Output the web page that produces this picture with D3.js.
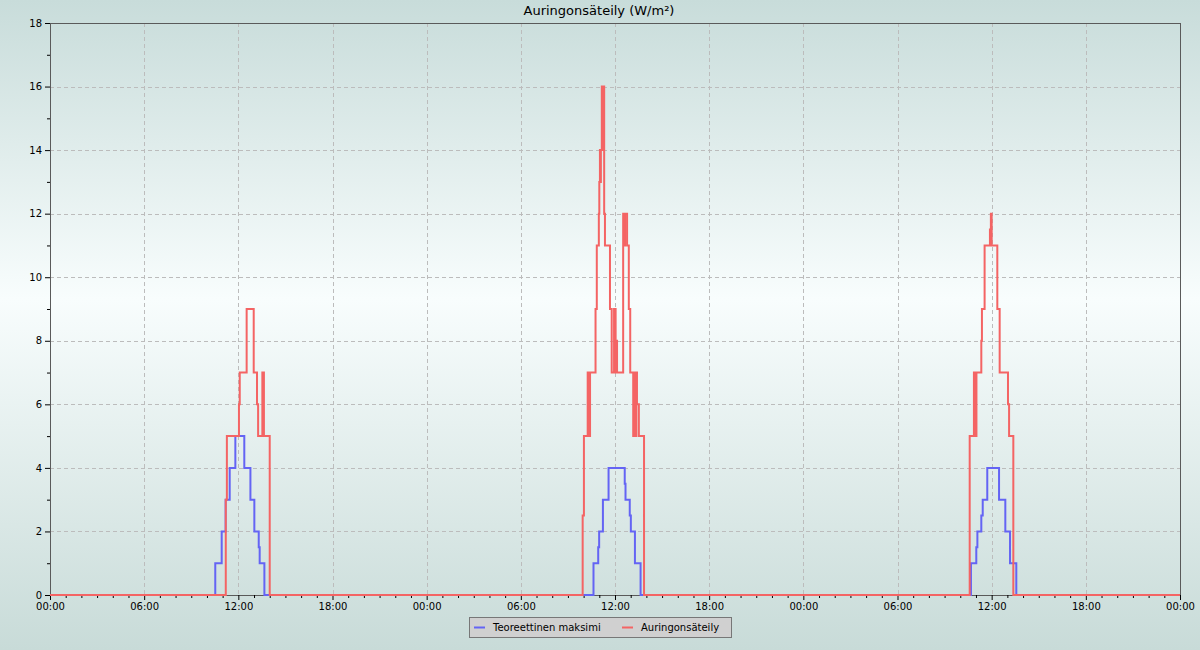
<!DOCTYPE html>
<html>
<head>
<meta charset="utf-8">
<script src="https://cdn.jsdelivr.net/npm/d3@7"></script>
<style>
html,body{margin:0;padding:0;}
body{width:1200px;height:650px;overflow:hidden;}
svg{display:block;font-family:"DejaVu Sans",sans-serif;}
</style>
</head>
<body>
<svg id="chart" width="1200" height="650"></svg>
<script>
// ---- data (hours since start of first day) ----
const chartTitle = "Auringonsäteily (W/m²)";
const seriesNames = ["Teoreettinen maksimi", "Auringonsäteily"];
const seriesColors = ["#6464f4", "#f46464"];

const maxTimes = [0, 10.53, 10.94, 11.19, 11.45, 11.81, 12.38, 12.77, 13.02, 13.30, 13.36, 13.66,
  34.63, 34.93, 34.99, 35.23, 35.59, 36.62, 36.67, 36.94, 37.01, 37.27, 37.63,
  58.68, 59.02, 59.09, 59.34, 59.43, 59.72, 60.47, 60.87, 61.17, 61.57, 72];
const maxValues = [0, 1, 2, 3, 4, 5, 4, 3, 2, 1.5, 1, 0,
  1, 1.5, 2, 3, 4, 3.5, 3, 2.5, 2, 1, 0,
  1, 1.5, 2, 2.5, 3, 4, 3, 2, 1, 0, 0];

const radTimes = [0, 11.20, 11.27, 12.04, 12.09, 12.53, 12.98, 13.19, 13.26, 13.53, 13.56, 13.59, 13.63, 14.00,
  33.94, 34.02, 34.26, 34.30, 34.34, 34.38, 34.41, 34.76, 34.84, 34.97, 35.00, 35.04, 35.07, 35.10, 35.16, 35.20, 35.23, 35.31, 35.36,
  35.68, 35.79, 35.94, 35.97, 36.00, 36.04, 36.09, 36.13, 36.52, 36.58, 36.64, 36.77, 36.88, 36.97,
  37.16, 37.20, 37.24, 37.28, 37.32, 37.36, 37.40, 37.52, 37.85,
  58.60, 58.87, 58.91, 58.95, 58.99, 59.03, 59.34, 59.38, 59.55, 59.89, 59.95, 60.00, 60.36, 60.51, 61.04, 61.11, 61.38, 72];
const radValues = [0, 3, 5, 6, 7, 9, 7, 6, 5, 7, 5, 7, 5, 0,
  2.5, 5, 7, 5, 7, 5, 7, 9, 11, 12, 13, 14, 13, 14, 16, 14, 16, 12, 11,
  9, 7, 9, 7, 9, 7, 8, 7, 12, 11, 12, 11, 9, 7,
  5, 7, 5, 7, 5, 7, 6, 5, 0,
  5, 7, 5, 7, 5, 7, 8, 9, 11, 11.5, 12, 11, 9, 7, 6, 5, 0, 0];

const xTickHours = [0, 6, 12, 18, 24, 30, 36, 42, 48, 54, 60, 66, 72];
const xTickLabels = ["00:00", "06:00", "12:00", "18:00", "00:00", "06:00", "12:00", "18:00", "00:00", "06:00", "12:00", "18:00", "00:00"];
const yTicks = [0, 2, 4, 6, 8, 10, 12, 14, 16, 18];

// ---- layout ----
const W = 1200, H = 650;
const m = {left: 50, right: 20, top: 23, bottom: 55};
const svg = d3.select("#chart");

const defs = svg.append("defs");
const grad = defs.append("linearGradient").attr("id", "bg").attr("x1", 0).attr("y1", 0).attr("x2", 0).attr("y2", 1);
grad.append("stop").attr("offset", "0%").attr("stop-color", "#c8dcda");
grad.append("stop").attr("offset", "46%").attr("stop-color", "#f8fdfd");
grad.append("stop").attr("offset", "100%").attr("stop-color", "#c8dbd8");
svg.append("rect").attr("width", W).attr("height", H).attr("fill", "url(#bg)");

const x = d3.scaleLinear().domain([0, 72]).range([m.left, W - m.right]);
const y = d3.scaleLinear().domain([0, 18]).range([595, m.top]);

// grid
const grid = svg.append("g").attr("stroke", "#bcbcbc").attr("stroke-dasharray", "4,3").attr("stroke-width", 1);
xTickHours.slice(1, -1).forEach(h => {
  grid.append("line").attr("x1", Math.round(x(h)) + 0.5).attr("x2", Math.round(x(h)) + 0.5)
    .attr("y1", y(18)).attr("y2", y(0));
});
yTicks.slice(1, -1).forEach(v => {
  grid.append("line").attr("y1", Math.round(y(v)) + 0.5).attr("y2", Math.round(y(v)) + 0.5)
    .attr("x1", x(0)).attr("x2", x(72));
});

// frame
svg.append("rect").attr("x", x(0) + 0.5).attr("y", y(18) + 0.5)
  .attr("width", x(72) - x(0)).attr("height", y(0) - y(18))
  .attr("fill", "none").attr("stroke", "#5a5a5a").attr("stroke-width", 1);

// axes
const xAxis = d3.axisBottom(x).tickValues(xTickHours).tickSize(5).tickPadding(3)
  .tickFormat((d, i) => xTickLabels[i]);
const gx = svg.append("g").attr("transform", `translate(0,${y(0)})`).call(xAxis);
const xMinor = d3.axisBottom(x).tickValues(d3.range(0, 73, 1).filter(h => h % 6 !== 0)).tickSize(3).tickFormat("");
const gxm = svg.append("g").attr("transform", `translate(0,${y(0)})`).call(xMinor);

const yAxis = d3.axisLeft(y).tickValues(yTicks).tickSize(5).tickPadding(3).tickFormat(d3.format("d"));
const gy = svg.append("g").attr("transform", `translate(${x(0)},0)`).call(yAxis);
const yMinor = d3.axisLeft(y).tickValues(d3.range(1, 18, 2)).tickSize(3).tickFormat("");
const gym = svg.append("g").attr("transform", `translate(${x(0)},0)`).call(yMinor);

[gx, gxm, gy, gym].forEach(g => {
  g.select(".domain").remove();
  g.selectAll("line").attr("stroke", "#000");
  g.selectAll("text").attr("font-family", "DejaVu Sans").attr("font-size", 10).attr("fill", "#000");
});

// lines
const line = d3.line().x(d => x(d[0])).y(d => y(d[1])).curve(d3.curveStepAfter);
const maxData = maxTimes.map((t, i) => [t, maxValues[i]]);
const radData = radTimes.map((t, i) => [t, radValues[i]]);

svg.append("path").datum(maxData).attr("d", line)
  .attr("fill", "none").attr("stroke", seriesColors[0]).attr("stroke-width", 2);
svg.append("path").datum(radData).attr("d", line)
  .attr("fill", "none").attr("stroke", seriesColors[1]).attr("stroke-width", 2);

// title
svg.append("text").attr("x", 599).attr("y", 15).attr("text-anchor", "middle")
  .attr("font-size", 13).attr("fill", "#000").text(chartTitle);

// legend
const lg = svg.append("g");
lg.append("rect").attr("x", 469.5).attr("y", 617.5).attr("width", 262).attr("height", 20)
  .attr("fill", "#d0d0d0").attr("stroke", "#777").attr("stroke-width", 1);
const legendX = [474, 622];
seriesNames.forEach((name, i) => {
  lg.append("line").attr("x1", legendX[i]).attr("x2", legendX[i] + 11)
    .attr("y1", 627.5).attr("y2", 627.5).attr("stroke", seriesColors[i]).attr("stroke-width", 2);
  lg.append("text").attr("x", legendX[i] + 19).attr("y", 631)
    .attr("font-size", 10).attr("fill", "#000").text(name);
});
</script>
</body>
</html>
